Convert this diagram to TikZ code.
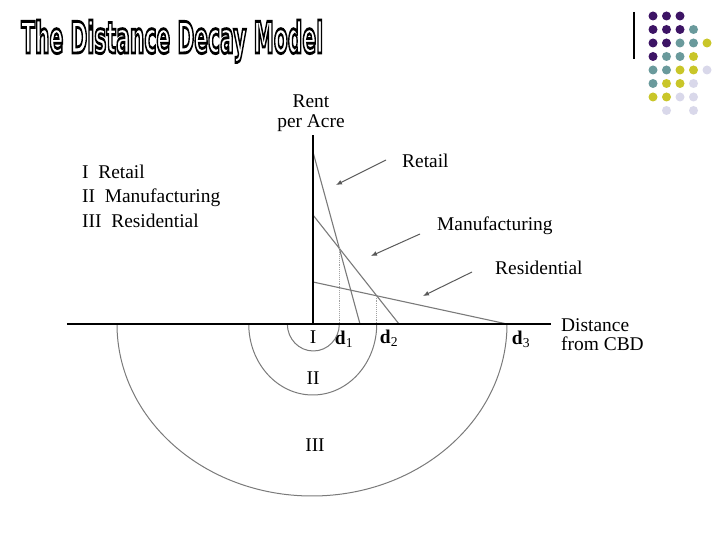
\documentclass[tikz,border=0pt]{standalone}
\usepackage{fontspec}
\setmainfont{Liberation Serif}
\newfontfamily\titlefont{DejaVu Sans}
\usetikzlibrary{positioning,calc,arrows.meta}
\definecolor{dotpurple}{HTML}{3D1465}
\definecolor{dotteal}{HTML}{6A9A9C}
\definecolor{dotyellow}{HTML}{C9C629}
\definecolor{dotlilac}{HTML}{D9D8EA}
\definecolor{curvegray}{HTML}{7A7A7A}
\tikzset{font=\fontsize{19.5}{22}\selectfont}
% hollow letters for the title
\newcommand{\hollowtext}[1]{\special{pdf:literal direct 1 Tr 1.3 w}#1\special{pdf:literal direct 0 Tr}}

\begin{document}
\begin{tikzpicture}[x=1bp,y=1bp,
	rentline/.style={draw=curvegray, line width=1.1bp},
	zone/.style={draw=curvegray, line width=1bp},
	dropline/.style={draw=curvegray!70, densely dotted, line width=0.9bp},
	pointer/.style={draw=black!65, line width=1bp, -{Latex[length=6bp,width=5bp]}}]
	\useasboundingbox (-313,-222) rectangle (415,324);

	% title and corner dots
	\node[anchor=base west, inner sep=0pt] (title) at (-292,271) {\resizebox{302bp}{33bp}{\hollowtext{\titlefont\bfseries The Distance Decay Model}}};
	\draw[line width=1.5bp] (321,312) -- (321,265);
	\foreach \c/\r in {0/0,1/0,2/0,0/1,1/1,2/1,0/2,1/2,0/3}
		\fill[dotpurple] ({340+13.5*\c},{308-13.5*\r}) circle (4.5);
	\foreach \c/\r in {3/1,2/2,3/2,1/3,2/3,0/4,1/4,0/5}
		\fill[dotteal] ({340+13.5*\c},{308-13.5*\r}) circle (4.5);
	\foreach \c/\r in {4/2,3/3,2/4,3/4,1/5,2/5,0/6,1/6}
		\fill[dotyellow] ({340+13.5*\c},{308-13.5*\r}) circle (4.5);
	\foreach \c/\r in {4/4,3/5,2/6,3/6,1/7,3/7}
		\fill[dotlilac] ({340+13.5*\c},{308-13.5*\r}) circle (4.5);

	\begin{scope}
		\tikzstyle{every node}=[inner sep=1pt]
		\coordinate (O) at (0,0);
		\coordinate (xleft) at (-246,0);
		\coordinate (xright) at (238,0);
		\coordinate (ytop) at (0,189);
		\coordinate (retailtop) at (0,172);
		\coordinate (retailend) at (47,0);
		\coordinate (manutop) at (0,109);
		\coordinate (manuend) at (86,0);
		\coordinate (restop) at (0,42);
		\coordinate (d3) at (194,0);
		\coordinate (cross1) at (intersection of retailtop--retailend and manutop--manuend);
		\coordinate (cross2) at (intersection of manutop--manuend and restop--d3);

		\node[align=center, font=\fontsize{19.5}{20}\selectfont] (rent) at (-2,211) {Rent\\per Acre};
		\node[anchor=west, align=left, font=\fontsize{19.5}{24.5}\selectfont] (legend) at (-232,128) {I~~Retail\\II~~Manufacturing\\III~~Residential};
		\node[anchor=west] (retail) at (88,163) {Retail};
		\node[anchor=west] (manu) at (123,98) {Manufacturing};
		\node[anchor=west] (resid) at (181,56) {Residential};
		\node[anchor=west, align=left, font=\fontsize{19.5}{19}\selectfont] (dist) at (247,-11) {Distance\\from CBD};
		\node (zoneI) at (0,-13) {I};
		\node (zoneII) at (0,-54) {II};
		\node (zoneIII) at (2,-121) {III};
		\node (lbld1) at (31,-15) {\textbf{d}\textsubscript{1}};
		\node (lbld2) at (76,-14) {\textbf{d}\textsubscript{2}};
		\node (lbld3) at (208,-15) {\textbf{d}\textsubscript{3}};

		% rent gradients
		\draw[rentline] (retailtop) -- (retailend);
		\draw[rentline] (manutop) -- (manuend);
		\draw[rentline] (restop) -- (d3);
		\draw[dropline] (cross1) -- (cross1 |- O);
		\draw[dropline] (cross2) -- (cross2 |- O);

		% zones
		\draw[zone] (cross1 |- O) arc[start angle=0, end angle=-180, x radius=26, y radius=27];
		\draw[zone] (cross2 |- O) arc[start angle=0, end angle=-180, x radius=64, y radius=71];
		\draw[zone] (d3) arc[start angle=0, end angle=-180, x radius=195, y radius=172];

		% pointers
		\coordinate (retailtail) at (73,164);
		\coordinate (retailhead) at (23,139);
		\coordinate (manutail) at (107,90);
		\coordinate (manuhead) at (58,68);
		\coordinate (residtail) at (159,52);
		\coordinate (residhead) at (110,28);
		\draw[pointer] (retailtail) -- (retailhead);
		\draw[pointer] (manutail) -- (manuhead);
		\draw[pointer] (residtail) -- (residhead);

		\draw[line width=2.5bp] (xleft) -- (xright);
		\draw[line width=2bp] (O) -- (ytop);
	\end{scope}
\end{tikzpicture}
\end{document}
